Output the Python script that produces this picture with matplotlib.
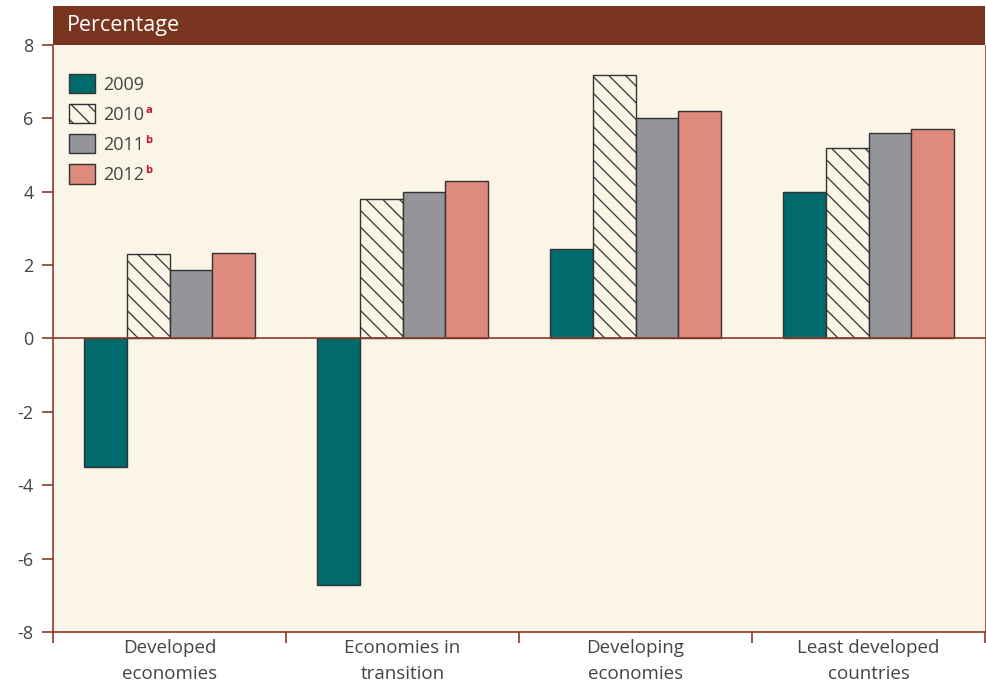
import numpy as np
import matplotlib.pyplot as plt
import matplotlib.patches as mpatches

plt.rcParams.update({
    "font.family": ["Open Sans", "DejaVu Sans"],
    "axes.unicode_minus": False,
    "hatch.linewidth": 0.9,
    "hatch.color": "#6a6a6a",
})

# ── Data ──────────────────────────────────────────────────────────────────────
categories = ["Developed\neconomies", "Economies in\ntransition",
              "Developing\neconomies", "Least developed\ncountries"]
years = ["2009", "2010", "2011", "2012"]
sup_marks = ["", "a", "b", "b"]
v2009 = [-3.5, -6.73, 2.45, 3.98]
v2010 = [2.29, 3.81, 7.19, 5.2]
v2011 = [1.88, 4.0, 6.02, 5.59]
v2012 = [2.34, 4.28, 6.19, 5.72]
series = [v2009, v2010, v2011, v2012]

# ── Style ─────────────────────────────────────────────────────────────────────
BROWN = "#8B3A26"
HEADER = "#7A3520"
BG = "#FBF5E8"
faces = ["#006A6C", BG, "#939598", "#DE8A7C"]
hatches = [None, "\\\\", None, None]
TXT = "#444444"

fig = plt.figure(figsize=(9.87, 6.83), dpi=100)
ax = fig.add_axes([0.0537, 0.0747, 0.9443, 0.8594])
ax.set_facecolor(BG)

x = np.arange(len(categories))
bw = 0.1825
offsets = (np.arange(4) - 1.5) * bw
for vals, off, fc, h, yr in zip(series, offsets, faces, hatches, years):
    ax.bar(x + off, vals, width=bw, color=fc, edgecolor="#333333",
           linewidth=1.0, hatch=h, zorder=3, label=yr)

ax.axhline(0, color=BROWN, linewidth=1.2, zorder=4)

ax.set_xlim(-0.5, 3.5)
ax.set_ylim(-8, 8)
ax.set_yticks(np.arange(-8, 9, 2))
ax.set_yticklabels([str(v) for v in range(-8, 9, 2)])
ax.set_xticks(x)
ax.set_xticklabels(categories, linespacing=1.55)
ax.set_xticks(np.arange(-0.5, 3.6, 1), minor=True)
ax.tick_params(axis="x", which="major", length=0, pad=5, labelsize=13.5, labelcolor=TXT)
ax.tick_params(axis="x", which="minor", length=8, color=BROWN, width=1.2, direction="out")
ax.tick_params(axis="y", length=8, color=BROWN, width=1.2, direction="out",
               labelsize=13, labelcolor=TXT, pad=6)
for s in ["left", "bottom"]:
    ax.spines[s].set_color(BROWN)
    ax.spines[s].set_linewidth(1.2)
ax.spines["right"].set_color(BROWN)
ax.spines["right"].set_linewidth(0.6)
ax.spines["top"].set_visible(False)

# Header bar
fig.patches.append(mpatches.Rectangle((0.0537, 0.934), 0.9443, 0.057,
                                      transform=fig.transFigure,
                                      facecolor=HEADER, edgecolor="none"))
fig.text(0.068, 0.962, "Percentage", color="white", fontsize=15.5, va="center", ha="left")

# Legend
leg = ax.legend(loc="upper left", bbox_to_anchor=(0.0, 0.978), frameon=False,
                fontsize=13, handlelength=1.45, handleheight=1.25,
                labelspacing=0.58, handletextpad=0.45, labelcolor=TXT)
fig.canvas.draw()
renderer = fig.canvas.get_renderer()
for t, m in zip(leg.get_texts(), sup_marks):
    if not m:
        continue
    bb = t.get_window_extent(renderer)
    fig.text(bb.x1 / fig.dpi / fig.get_figwidth() + 0.0005,
             bb.y1 / fig.dpi / fig.get_figheight() - 0.007, m,
             color="#C8102E", fontsize=8, fontweight="bold", va="center", ha="left")

fig.savefig("out.png", dpi=100, facecolor="white")
